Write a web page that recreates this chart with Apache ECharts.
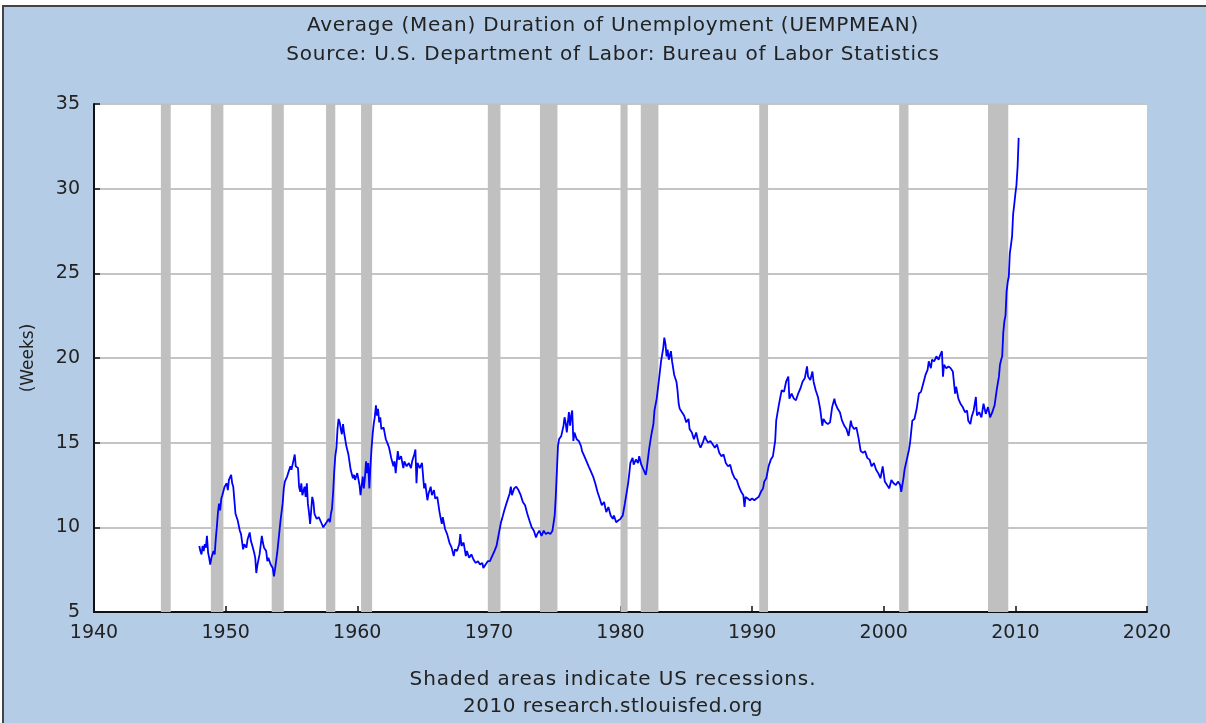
<!DOCTYPE html>
<html>
<head>
<meta charset="utf-8">
<script src="https://cdn.jsdelivr.net/npm/echarts@6/dist/echarts.min.js"></script>
<style>
html,body{margin:0;padding:0;background:#ffffff;}
#frame{position:absolute;left:2px;top:5px;width:1204px;height:718px;background:#b4cce5;border-left:2px solid #444;border-top:2px solid #444;box-sizing:border-box;}
#chart{position:absolute;left:0;top:0;width:1206px;height:723px;}
.txt{position:absolute;left:0;width:1226px;text-align:center;font-family:"DejaVu Sans";font-size:20px;line-height:24px;color:#222;white-space:nowrap;z-index:5;}
</style>
</head>
<body>
<div id="frame"></div>
<div id="chart"></div>
<div id="t1" class="txt" style="top:12px;letter-spacing:0.75px;"></div>
<div id="t2" class="txt" style="top:41px;letter-spacing:0.75px;"></div>
<div id="f1" class="txt" style="top:666px;letter-spacing:0.9px;"></div>
<div id="f2" class="txt" style="top:693px;letter-spacing:0.5px;"></div>
<script>
// ---- Data ----
const titleLines = ["Average (Mean) Duration of Unemployment (UEMPMEAN)", "Source: U.S. Department of Labor: Bureau of Labor Statistics"];
const footerLines = ["Shaded areas indicate US recessions.", "2010 research.stlouisfed.org"];
const yAxisName = "(Weeks)";
const xTicks = [1940, 1950, 1960, 1970, 1980, 1990, 2000, 2010, 2020];
const yTicks = [5, 10, 15, 20, 25, 30, 35];

// recession periods [start, end] in decimal years
const recessions = [
  [1945.08, 1945.83], [1948.88, 1949.83], [1953.50, 1954.42], [1957.63, 1958.33],
  [1960.29, 1961.13], [1969.92, 1970.88], [1973.88, 1975.21], [1980.00, 1980.54],
  [1981.54, 1982.88], [1990.54, 1991.21], [2001.17, 2001.88], [2007.92, 2009.46]
];

// [decimal year, weeks]
const uempmean = [
[1948.00,8.9],[1948.08,8.6],[1948.17,8.4],[1948.25,8.9],[1948.33,8.6],[1948.42,9.0],[1948.50,8.8],[1948.58,9.5],[1948.67,8.5],[1948.75,8.2],[1948.83,7.8],[1948.92,8.2],
[1949.00,8.1],[1949.08,8.6],[1949.17,8.4],[1949.25,9.3],[1949.33,10.0],[1949.42,10.9],[1949.50,11.4],[1949.58,11.0],[1949.67,11.7],[1949.75,11.9],[1949.83,12.0],[1949.92,12.4],
[1950.08,12.6],[1950.17,12.2],[1950.25,12.8],[1950.42,13.1],[1950.50,12.6],[1950.58,12.4],[1950.75,10.8],[1950.83,10.7],[1950.92,10.4],
[1951.08,9.8],[1951.17,9.6],[1951.33,8.7],[1951.42,9.0],[1951.50,9.1],[1951.58,8.8],[1951.67,9.3],[1951.83,9.7],[1951.92,9.2],
[1952.00,9.0],[1952.17,8.5],[1952.25,8.2],[1952.33,7.3],[1952.42,7.8],[1952.50,7.7],[1952.58,8.4],[1952.75,9.5],[1952.83,9.1],[1952.92,8.8],
[1953.08,8.6],[1953.17,8.0],[1953.25,8.2],[1953.42,7.8],[1953.50,7.9],[1953.58,7.6],[1953.67,7.1],[1953.75,7.5],[1953.92,8.5],
[1954.08,9.7],[1954.17,10.4],[1954.33,11.4],[1954.42,12.3],[1954.50,12.7],[1954.67,13.0],[1954.75,13.2],[1954.92,13.6],
[1955.00,13.4],[1955.17,14.0],[1955.25,14.3],[1955.33,13.6],[1955.50,13.5],[1955.58,12.4],[1955.67,12.1],[1955.75,12.6],[1955.83,11.9],
[1956.00,12.4],[1956.08,11.8],[1956.17,12.6],[1956.25,11.4],[1956.33,10.9],[1956.42,10.2],[1956.50,11.0],[1956.58,11.8],[1956.67,11.5],[1956.75,10.8],[1956.92,10.5],
[1957.08,10.6],[1957.25,10.3],[1957.42,10.0],[1957.50,9.9],[1957.67,10.3],[1957.83,10.5],[1957.92,10.3],
[1958.00,10.8],[1958.08,11.1],[1958.17,12.1],[1958.25,13.3],[1958.33,14.2],[1958.42,14.7],[1958.50,15.8],[1958.58,16.4],[1958.67,16.2],[1958.75,15.8],[1958.83,15.5],[1958.92,16.1],
[1959.00,15.6],[1959.17,14.8],[1959.33,14.3],[1959.50,13.4],[1959.67,12.9],[1959.75,13.1],[1959.83,12.8],
[1960.00,13.2],[1960.17,12.5],[1960.25,11.9],[1960.33,12.0],[1960.42,13.0],[1960.50,12.3],[1960.58,12.9],[1960.67,13.9],[1960.75,13.2],[1960.83,13.8],[1960.92,12.3],
[1961.00,13.6],[1961.08,14.6],[1961.17,15.5],[1961.25,16.1],[1961.33,16.5],[1961.42,17.2],[1961.50,16.6],[1961.58,17.0],[1961.67,16.2],[1961.75,16.5],[1961.83,15.8],
[1962.00,15.9],[1962.17,15.2],[1962.33,14.9],[1962.42,14.7],[1962.58,14.1],[1962.75,13.6],[1962.83,13.9],[1962.92,13.2],
[1963.08,14.5],[1963.17,14.0],[1963.33,14.2],[1963.50,13.5],[1963.58,13.9],[1963.75,13.6],[1963.92,13.8],
[1964.08,13.5],[1964.17,13.9],[1964.33,14.3],[1964.42,14.6],[1964.50,12.6],[1964.58,13.8],[1964.75,13.5],[1964.92,13.8],
[1965.08,12.3],[1965.17,12.6],[1965.33,11.6],[1965.42,12.0],[1965.58,12.4],[1965.67,11.9],[1965.83,12.2],[1965.92,11.7],
[1966.08,11.8],[1966.25,10.9],[1966.42,10.2],[1966.50,10.6],[1966.67,9.9],[1966.83,9.6],
[1967.00,9.1],[1967.17,8.8],[1967.33,8.3],[1967.42,8.7],[1967.58,8.6],[1967.75,9.0],[1967.83,9.6],[1967.92,8.9],
[1968.08,9.1],[1968.25,8.3],[1968.33,8.6],[1968.50,8.2],[1968.67,8.4],[1968.83,8.1],
[1969.00,7.9],[1969.17,8.0],[1969.33,7.8],[1969.50,7.9],[1969.58,7.6],[1969.75,7.8],[1969.92,8.0],
[1970.08,8.0],[1970.25,8.3],[1970.42,8.6],[1970.58,8.9],[1970.75,9.6],[1970.92,10.3],
[1971.00,10.5],[1971.17,11.0],[1971.33,11.4],[1971.42,11.5],[1971.58,12.0],[1971.67,12.4],[1971.75,11.9],[1971.92,12.3],
[1972.08,12.4],[1972.25,12.2],[1972.42,11.9],[1972.58,11.5],[1972.75,11.3],[1972.92,10.8],
[1973.08,10.4],[1973.25,10.0],[1973.42,9.8],[1973.58,9.4],[1973.67,9.6],[1973.83,9.8],
[1974.00,9.5],[1974.17,9.8],[1974.33,9.6],[1974.50,9.7],[1974.67,9.6],[1974.83,9.8],
[1975.00,10.7],[1975.08,11.8],[1975.17,13.4],[1975.25,14.8],[1975.33,15.2],[1975.50,15.4],[1975.67,16.0],[1975.75,16.5],[1975.83,16.2],[1975.92,15.6],
[1976.08,16.8],[1976.17,16.0],[1976.25,16.6],[1976.33,16.9],[1976.42,15.1],[1976.50,15.6],[1976.67,15.2],[1976.83,15.1],
[1977.00,14.8],[1977.08,14.5],[1977.25,14.2],[1977.42,13.9],[1977.58,13.6],[1977.75,13.3],[1977.92,13.0],
[1978.08,12.6],[1978.25,12.1],[1978.42,11.7],[1978.58,11.3],[1978.75,11.5],[1978.92,10.9],
[1979.08,11.2],[1979.25,10.7],[1979.42,10.5],[1979.50,10.7],[1979.67,10.3],[1979.83,10.4],
[1980.00,10.5],[1980.17,10.7],[1980.33,11.4],[1980.42,11.5],[1980.58,12.6],[1980.67,13.2],[1980.75,13.8],[1980.92,14.1],
[1981.00,13.7],[1981.17,14.0],[1981.33,13.8],[1981.42,14.2],[1981.58,13.7],[1981.75,13.4],[1981.92,13.1],
[1982.00,13.5],[1982.17,14.6],[1982.33,15.4],[1982.50,16.1],[1982.58,16.9],[1982.75,17.6],[1982.92,18.7],
[1983.08,19.8],[1983.25,20.6],[1983.33,21.2],[1983.42,20.8],[1983.50,20.1],[1983.58,20.5],[1983.67,19.9],[1983.83,20.4],[1983.92,19.8],
[1984.08,19.0],[1984.25,18.6],[1984.33,18.1],[1984.42,17.3],[1984.50,17.0],[1984.67,16.8],[1984.83,16.6],
[1985.00,16.2],[1985.17,16.4],[1985.25,15.8],[1985.42,15.6],[1985.58,15.2],[1985.75,15.6],[1985.92,15.0],
[1986.08,14.7],[1986.25,15.0],[1986.42,15.4],[1986.50,15.2],[1986.67,15.0],[1986.83,15.1],
[1987.00,14.9],[1987.17,14.7],[1987.33,14.9],[1987.50,14.4],[1987.67,14.2],[1987.83,14.3],
[1988.00,13.8],[1988.17,13.6],[1988.33,13.7],[1988.50,13.2],[1988.67,12.9],[1988.83,12.8],
[1989.00,12.4],[1989.17,12.1],[1989.33,11.9],[1989.42,11.2],[1989.50,11.8],[1989.67,11.7],[1989.83,11.6],
[1990.00,11.7],[1990.17,11.6],[1990.33,11.7],[1990.50,11.8],[1990.67,12.1],[1990.83,12.3],[1990.92,12.7],
[1991.08,12.9],[1991.25,13.6],[1991.42,14.0],[1991.58,14.2],[1991.75,15.1],[1991.83,16.3],
[1992.00,17.1],[1992.17,17.8],[1992.25,18.1],[1992.42,18.0],[1992.58,18.6],[1992.75,18.9],[1992.83,17.6],
[1993.00,17.9],[1993.17,17.6],[1993.33,17.5],[1993.50,17.9],[1993.67,18.2],[1993.83,18.6],
[1994.00,18.8],[1994.17,19.5],[1994.25,18.9],[1994.42,18.7],[1994.58,19.2],[1994.67,18.6],[1994.83,18.1],
[1995.00,17.7],[1995.17,17.0],[1995.33,16.0],[1995.42,16.4],[1995.58,16.2],[1995.75,16.1],[1995.92,16.2],
[1996.08,17.1],[1996.25,17.6],[1996.33,17.3],[1996.50,17.0],[1996.67,16.8],[1996.83,16.3],
[1997.00,16.0],[1997.17,15.8],[1997.33,15.4],[1997.50,16.3],[1997.58,16.0],[1997.75,15.8],[1997.92,15.9],
[1998.08,15.3],[1998.25,14.5],[1998.42,14.4],[1998.58,14.5],[1998.75,14.1],[1998.92,14.0],
[1999.08,13.6],[1999.25,13.8],[1999.42,13.4],[1999.58,13.2],[1999.75,12.9],[1999.92,13.6],
[2000.08,12.7],[2000.25,12.5],[2000.42,12.3],[2000.58,12.8],[2000.75,12.6],[2000.92,12.5],
[2001.08,12.7],[2001.25,12.5],[2001.33,12.1],[2001.50,12.9],[2001.58,13.4],[2001.75,14.0],[2001.92,14.6],
[2002.00,15.0],[2002.17,16.3],[2002.33,16.4],[2002.50,17.0],[2002.67,17.9],[2002.83,18.0],
[2003.00,18.5],[2003.17,19.0],[2003.33,19.3],[2003.42,19.8],[2003.58,19.4],[2003.67,19.9],[2003.83,19.8],
[2004.00,20.1],[2004.17,19.9],[2004.25,20.1],[2004.42,20.4],[2004.50,18.9],[2004.58,19.6],[2004.75,19.4],[2004.92,19.5],
[2005.08,19.4],[2005.25,19.2],[2005.42,17.9],[2005.50,18.3],[2005.67,17.6],[2005.83,17.3],
[2006.00,17.1],[2006.17,16.8],[2006.33,16.9],[2006.42,16.3],[2006.58,16.1],[2006.67,16.5],[2006.83,16.9],
[2007.00,17.7],[2007.08,16.6],[2007.25,16.8],[2007.42,16.5],[2007.58,17.3],[2007.75,16.7],[2007.92,17.1],
[2008.08,16.5],[2008.25,16.8],[2008.33,17.0],[2008.42,17.2],[2008.58,18.1],[2008.75,18.9],[2008.83,19.6],[2008.92,19.9],
[2009.00,20.1],[2009.08,21.5],[2009.17,22.2],[2009.25,22.5],[2009.33,23.9],[2009.42,24.5],[2009.50,24.8],[2009.58,26.2],[2009.67,26.7],[2009.75,27.2],[2009.83,28.5],[2009.92,29.1],
[2010.00,29.7],[2010.08,30.2],[2010.17,31.3],[2010.25,33.0]
];

// ---- Text (real HTML text) ----
document.getElementById('t1').textContent = titleLines[0];
document.getElementById('t2').textContent = titleLines[1];
document.getElementById('f1').textContent = footerLines[0];
document.getElementById('f2').textContent = footerLines[1];

// ---- Chart ----
const FONT = "DejaVu Sans";
const TXT = "#222";
const chart = echarts.init(document.getElementById('chart'), null, {renderer: 'canvas'});

const option = {
  backgroundColor: 'transparent',
  animation: false,
  textStyle: {fontFamily: FONT},
  grid: {left: 94, top: 104, right: 59, bottom: 111, show: true, backgroundColor: '#ffffff', borderWidth: 0},
  xAxis: {
    type: 'value', min: xTicks[0], max: xTicks[xTicks.length - 1], interval: 10,
    axisLine: {show: true, onZero: false, lineStyle: {color: '#111', width: 2}},
    axisTick: {show: true, inside: true, length: 6, lineStyle: {color: '#111', width: 1.5}},
    axisLabel: {color: TXT, fontSize: 19, fontFamily: FONT, margin: 12, formatter: v => String(v)},
    splitLine: {show: false}
  },
  yAxis: {
    type: 'value', min: yTicks[0], max: yTicks[yTicks.length - 1], interval: 5,
    name: yAxisName, nameLocation: 'middle', nameGap: 57, nameRotate: 90,
    nameTextStyle: {color: TXT, fontSize: 17, fontFamily: FONT},
    axisLine: {show: true, lineStyle: {color: '#111', width: 2}},
    axisTick: {show: true, inside: true, length: 6, lineStyle: {color: '#111', width: 1.5}},
    axisLabel: {color: TXT, fontSize: 19, fontFamily: FONT, margin: 14},
    splitLine: {show: true, lineStyle: {color: '#c4c4c4', width: 2}}
  },
  series: [{
    type: 'line',
    data: uempmean,
    showSymbol: false,
    symbol: 'none',
    lineStyle: {color: '#0000ff', width: 1.8},
    z: 3,
    markArea: {
      silent: true,
      itemStyle: {color: '#c0c0c0', opacity: 1},
      data: recessions.map(r => [{xAxis: r[0]}, {xAxis: r[1]}])
    }
  }]
};
chart.setOption(option);
</script>
</body>
</html>
